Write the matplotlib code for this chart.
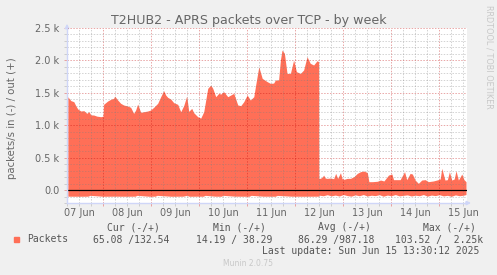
import numpy as np
import matplotlib.pyplot as plt
from matplotlib.patches import Rectangle

# hours since 07 Jun 00:00
out_hours = [6.4, 7.9, 9.4, 10.4, 11.4, 12.9, 14.4, 15.9, 16.9, 17.9, 19.4, 20.9, 22.9,
             24.0, 24.3, 26.3, 27.8, 29.3, 29.8, 31.3, 32.8, 34.3, 36.3, 37.8, 39.3,
             40.3, 41.3, 42.8, 44.3, 46.3, 47.8, 49.3, 51.3, 52.8, 54.3, 55.3, 56.3,
             57.8, 59.3, 61.3, 62.8, 64.3, 65.8, 66.8, 68.3, 69.3, 71.3, 72.8, 74.3,
             76.3, 77.8, 78.8, 80.3, 81.8, 82.8, 84.3, 86.3, 87.8, 89.3, 91.3, 92.8,
             94.3, 96.0, 97.6, 99.3, 100.1, 101.8, 103.5, 106.0, 107.6, 109.2, 110.1,
             111.7, 112.6, 113.4, 114.6, 115.9, 117.6, 119.2, 120.6, 122.6, 124.2,
             125.9, 127.5, 129.2, 130.9, 131.7, 131.8, 132.5, 133.5, 134.2, 135.0,
             135.9, 137.6, 139.2, 140.2, 141.2, 142.6, 143.4, 144.3, 146.0, 147.6,
             149.3, 151.0, 152.6, 154.3, 156.0, 156.8, 158.5, 161.0, 162.6, 164.3,
             166.6, 168.3, 169.1, 170.8, 172.4, 174.6, 175.7, 177.4, 178.5, 179.9,
             181.5, 183.2, 184.9, 186.5, 189.0, 190.7, 192.4, 193.2, 194.8, 196.0,
             197.0, 198.2, 199.4, 200.3, 201.5, 203.2, 204.3, 205.3]
out_vals = [1440, 1380, 1363, 1300, 1250, 1219, 1225, 1183, 1210, 1160, 1157, 1140, 1131,
            1140, 1322, 1373, 1399, 1415, 1450, 1389, 1338, 1312, 1296, 1276, 1183,
            1235, 1327, 1199, 1208, 1219, 1235, 1276, 1338, 1440, 1533, 1466, 1430,
            1404, 1348, 1322, 1208, 1302, 1451, 1214, 1260, 1193, 1131, 1110, 1208,
            1569, 1620, 1569, 1440, 1492, 1480, 1517, 1440, 1466, 1492, 1312, 1302,
            1363, 1466, 1389, 1440, 1594, 1903, 1723, 1672, 1646, 1650, 1698,
            1698, 2006, 2160, 2109, 1800, 1800, 2006, 1826, 1800, 1852,
            2057, 1955, 1929, 1995, 1980, 180, 180, 200, 231, 185,
            180, 185, 175, 257, 180, 267, 175, 165, 180, 180,
            206, 257, 283, 293, 270, 129, 129, 135, 154, 140,
            231, 247, 160, 160, 160, 283, 160, 257, 247, 154,
            103, 154, 160, 129, 140, 154, 170, 335, 154, 160,
            283, 154, 170, 298, 154, 247, 160, 129]

in_hours = [6.4, 12.0, 16.5, 17.5, 24.0, 30.0, 36.0, 40.0, 41.0, 47.0, 50.0, 51.0, 58.0,
            64.0, 65.8, 67.0, 72.0, 74.0, 75.0, 80.0, 83.0, 84.0, 90.0, 97.0, 98.0,
            104.0, 110.0, 111.0, 118.0, 124.0, 130.0, 131.7, 132.0, 134.0, 136.0,
            138.0, 140.0, 142.0, 144.0, 146.0, 148.0, 150.0, 152.0, 154.0, 156.0,
            158.0, 160.0, 162.0, 164.0, 166.0, 168.0, 170.0, 172.0, 174.0, 176.0,
            178.0, 180.0, 182.0, 184.0, 186.0, 188.0, 190.0, 192.0, 194.0, 196.0,
            198.0, 200.0, 202.0, 204.0, 205.3]
in_vals = [-95, -96, -95, -82, -96, -95, -96, -95, -82, -96, -95, -82, -96,
           -95, -82, -96, -95, -96, -82, -95, -96, -82, -95, -96, -82,
           -95, -96, -83, -95, -96, -95, -95, -80, -88, -72, -90, -78, -92,
           -70, -86, -94, -75, -88, -70, -92, -80, -86, -72, -95, -78, -88,
           -70, -90, -82, -75, -92, -80, -88, -70, -94, -78, -86, -72, -90,
           -82, -96, -75, -88, -80, -70]

ytick_vals = [0, 500, 1000, 1500, 2000, 2500]
ytick_labels = ['0.0', '0.5 k', '1.0 k', '1.5 k', '2.0 k', '2.5 k']
day_labels = ['07 Jun', '08 Jun', '09 Jun', '10 Jun', '11 Jun', '12 Jun', '13 Jun', '14 Jun', '15 Jun']

W, H = 497, 275
fill = '#FF6F57'
font_col = '#666666'
axis_col = '#CFD6F8'


def ftext(x, y, s, **kw):
    fig.text(x / W, 1 - y / H, s, **kw)


fig = plt.figure(figsize=(W / 100, H / 100), dpi=100, facecolor='#F0F0F0')
ax = fig.add_axes([67 / W, 1 - 203 / H, 400 / W, 175 / H])
ax.set_facecolor('white')

ax.fill_between(out_hours, out_vals, 0, color=fill, lw=0, zorder=2)
ax.fill_between(in_hours, in_vals, 0, color=fill, lw=0, zorder=2)
ax.axhline(0, color='black', lw=0.9, zorder=5)

ax.set_xlim(6.4, 205.8)
ax.set_ylim(-200, 2500)

# grid on top of the areas, like rrdtool
dots = (0, (1.5, 1.5))
for h in np.arange(6, 206, 6):
    if h % 24 == 0:
        ax.axvline(h, color='#c00000', alpha=0.35, lw=0.7, ls=dots, zorder=4)
    else:
        ax.axvline(h, color='#808080', alpha=0.35, lw=0.7, ls=dots, zorder=4)
for v in np.arange(-200, 2501, 100):
    if v % 500 == 0 and v != 0:
        ax.axhline(v, color='#c00000', alpha=0.35, lw=0.7, ls=dots, zorder=4)
    elif v % 500 != 0:
        ax.axhline(v, color='#808080', alpha=0.35, lw=0.7, ls=dots, zorder=4)

for s in ['top', 'right']:
    ax.spines[s].set_visible(False)
for s in ['left', 'bottom']:
    ax.spines[s].set_color(axis_col)
    ax.spines[s].set_linewidth(1.0)
    ax.spines[s].set_zorder(6)

ax.set_yticks(ytick_vals)
ax.set_yticklabels(ytick_labels)
ax.set_yticks(np.arange(-200, 2501, 100), minor=True)
ax.set_xticks(np.arange(24, 206, 24))
ax.set_xticklabels([])
ax.set_xticks(np.arange(6, 206, 6), minor=True)
ax.tick_params(axis='both', which='major', length=2.5, width=0.7, color='#e8a0a0',
               labelsize=7, labelcolor=font_col, pad=3)
ax.tick_params(axis='both', which='minor', length=2, width=0.7, color='#cccccc')

# day labels sit at noon, between the midnight lines
for i, lab in enumerate(day_labels):
    ax.text(12 + 24 * i, -(215.5 - 203) / 175, lab, transform=ax.get_xaxis_transform(),
            ha='center', va='baseline', fontsize=7, color=font_col)

# axis arrows
ax.annotate('', xy=(0, 1.04), xytext=(0, 0.99), xycoords='axes fraction',
            arrowprops=dict(arrowstyle='-|>', color=axis_col, lw=1, mutation_scale=6),
            annotation_clip=False)
ax.annotate('', xy=(1.017, 0), xytext=(0.99, 0), xycoords='axes fraction',
            arrowprops=dict(arrowstyle='-|>', color=axis_col, lw=1, mutation_scale=6),
            annotation_clip=False)

ftext(248.5, 24, 'T2HUB2 - APRS packets over TCP - by week', ha='center', va='baseline',
      fontsize=9.1, color=font_col)
ftext(12, 118, 'packets/s in (-) / out (+)', rotation=90, ha='center', va='center',
      fontsize=7.3, color=font_col)
ftext(489, 5, 'RRDTOOL / TOBI OETIKER', rotation=-90, ha='center', va='top',
      fontsize=5.9, color='#c8c8c8')

mono = dict(family='DejaVu Sans Mono', fontsize=7, color='#555555', va='baseline')
ftext(107.3, 230.5, 'Cur (-/+)', **mono)
ftext(212.7, 230.5, 'Min (-/+)', **mono)
ftext(317.7, 230.5, 'Avg (-/+)', **mono)
ftext(422.7, 230.5, 'Max (-/+)', **mono)
fig.patches.append(Rectangle((14 / W, 1 - 242 / H), 5.3 / W, 5.5 / H, color=fill,
                             transform=fig.transFigure, figure=fig))
ftext(26.7, 242.5, 'Packets', **mono)
ftext(93.3, 242.5, '65.08 /132.54', **mono)
ftext(196, 242.5, '14.19 / 38.29', **mono)
ftext(298.3, 242.5, '86.29 /987.18', **mono)
ftext(395, 242.5, '103.52 /  2.25k', **mono)
ftext(261.7, 254, 'Last update: Sun Jun 15 13:30:12 2025', **mono)
ftext(223.3, 266.5, 'Munin 2.0.75', fontsize=5.5, color='#c8c8c8', va='baseline')

fig.savefig('out.png', dpi=100, facecolor=fig.get_facecolor())
